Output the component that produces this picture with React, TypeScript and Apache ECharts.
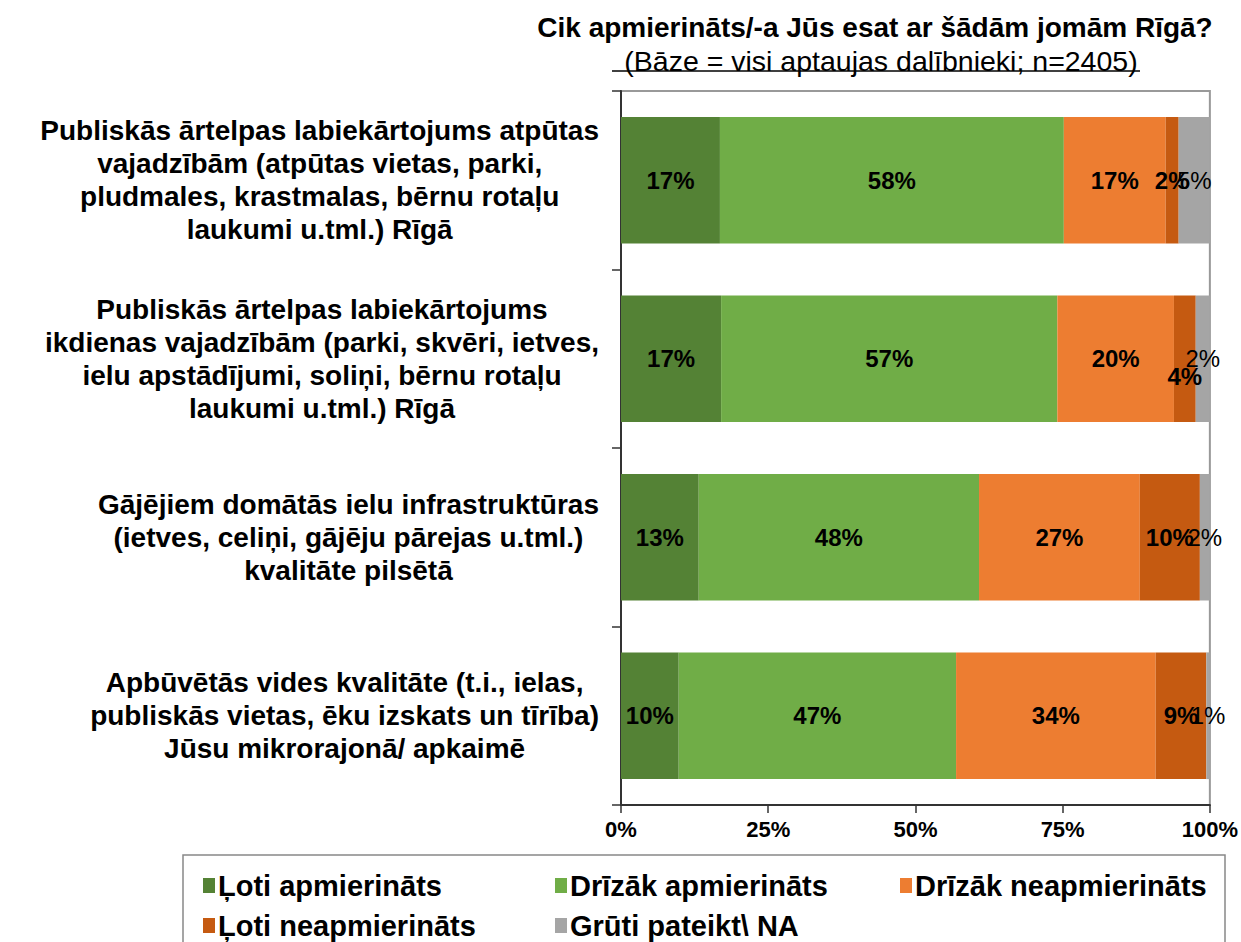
import React, { useEffect, useRef } from "react";
import * as echarts from "echarts";

const FONT = "'Liberation Sans', Arial, sans-serif";

const categories = [
  "Publiskās ārtelpas labiekārtojums atpūtas\nvajadzībām (atpūtas vietas, parki,\npludmales, krastmalas, bērnu rotaļu\nlaukumi u.tml.) Rīgā",
  "Publiskās ārtelpas labiekārtojums\nikdienas vajadzībām (parki, skvēri, ietves,\nielu apstādījumi, soliņi, bērnu rotaļu\nlaukumi u.tml.) Rīgā",
  "Gājējiem domātās ielu infrastruktūras\n(ietves, celiņi, gājēju pārejas u.tml.)\nkvalitāte pilsētā",
  "Apbūvētās vides kvalitāte (t.i., ielas,\npubliskās vietas, ēku izskats un tīrība)\nJūsu mikrorajonā/ apkaimē",
];

const seriesNames = [
  "Ļoti apmierināts",
  "Drīzāk apmierināts",
  "Drīzāk neapmierināts",
  "Ļoti neapmierināts",
  "Grūti pateikt\\ NA",
];

const veryPositive = [16.8, 17.0, 13.2, 9.8];
const ratherPositive = [58.4, 57.1, 47.6, 47.1];
const ratherNegative = [17.3, 19.8, 27.3, 33.9];
const veryNegative = [2.2, 3.7, 10.2, 8.6];
const hardToSay = [5.3, 2.4, 1.7, 0.6];

const xTicks = [0, 25, 50, 75, 100];

const colors = ["#548235", "#70AD47", "#ED7D31", "#C55A11", "#A5A5A5"];

const title = "Cik apmierināts/-a Jūs esat ar šādām jomām Rīgā?";
const subtitle = "(Bāze = visi aptaujas dalībnieki; n=2405)";

export default function App() {
  const ref = useRef<HTMLDivElement>(null);

  useEffect(() => {
    if (!ref.current) return;
    const chart = echarts.init(ref.current, undefined, { renderer: "svg" });

    const allValues = [veryPositive, ratherPositive, ratherNegative, veryNegative, hardToSay];

    const series = allValues.map((vals, si) => ({
      name: seriesNames[si],
      type: "bar",
      stack: "total",
      barCategoryGap: "29%",
      itemStyle: { color: colors[si] },
      label: {
        show: true,
        position: "inside",
        formatter: (p: any) => Math.round(p.value) + "%",
        fontFamily: FONT,
        fontSize: 24,
        fontWeight: si === 4 ? "normal" : "bold",
        color: "#000",
      },
      data: vals.map((v, ci) =>
        si === 3 && ci === 1 ? { value: v, label: { offset: [0, 18] } } : v
      ),
    }));

    const legendPos = [
      { left: 198, top: 866 },
      { left: 550, top: 866 },
      { left: 895, top: 866 },
      { left: 198, top: 906 },
      { left: 550, top: 906 },
    ];

    chart.setOption({
      animation: false,
      title: [
        {
          text: title,
          left: 870,
          top: 8,
          textAlign: "center",
          textStyle: { fontFamily: FONT, fontSize: 28, fontWeight: "bold", color: "#000" },
        },
        {
          text: subtitle,
          left: 876,
          top: 41,
          textAlign: "center",
          textStyle: { fontFamily: FONT, fontSize: 28.5, fontWeight: "normal", color: "#000" },
        },
      ],
      grid: {
        left: 621,
        right: 29,
        top: 91,
        bottom: 137,
        show: true,
        borderColor: "#999",
        borderWidth: 2,
        containLabel: false,
      },
      legend: legendPos.map((p, i) => ({
        data: [seriesNames[i]],
        left: p.left,
        top: p.top,
        icon: "rect",
        itemWidth: 12,
        itemHeight: 15,
        itemGap: 4,
        textStyle: { fontFamily: FONT, fontSize: 29, fontWeight: "bold", color: "#000", padding: [0, 0, 0, -2] },
      })),
      graphic: [
        {
          type: "line",
          shape: { x1: 612, y1: 71, x2: 1140, y2: 71 },
          style: { stroke: "#000", lineWidth: 1.5 },
        },
        {
          type: "rect",
          shape: { x: 183, y: 855, width: 1042, height: 100 },
          style: { fill: "none", stroke: "#888", lineWidth: 1.5 },
        },
      ],
      xAxis: {
        type: "value",
        min: xTicks[0],
        max: xTicks[xTicks.length - 1],
        interval: 25,
        splitLine: { show: false },
        axisLine: { show: true, lineStyle: { color: "#333", width: 2 } },
        axisTick: { show: true, length: 8, lineStyle: { color: "#333", width: 1.5 } },
        axisLabel: {
          formatter: "{value}%",
          fontFamily: FONT,
          fontSize: 22,
          fontWeight: "bold",
          color: "#000",
          margin: 13,
        },
      },
      yAxis: {
        type: "category",
        inverse: true,
        data: categories,
        axisLine: { show: true, lineStyle: { color: "#333", width: 2 } },
        axisTick: { show: true, length: 9, lineStyle: { color: "#333", width: 1.5 } },
        axisLabel: {
          margin: 22,
          align: "right",
          formatter: (v: string) =>
            v
              .split("\n")
              .map((l) => `{c|${l}}`)
              .join("\n"),
          rich: {
            c: {
              align: "center",
              fontFamily: FONT,
              fontSize: 28,
              fontWeight: "bold",
              color: "#000",
              lineHeight: 33,
            },
          },
        },
      },
      series,
    });

    return () => chart.dispose();
  }, []);

  return (
    <div
      ref={ref}
      style={{ position: "fixed", left: 0, top: 0, width: 1241, height: 942, background: "#fff" }}
    />
  );
}
